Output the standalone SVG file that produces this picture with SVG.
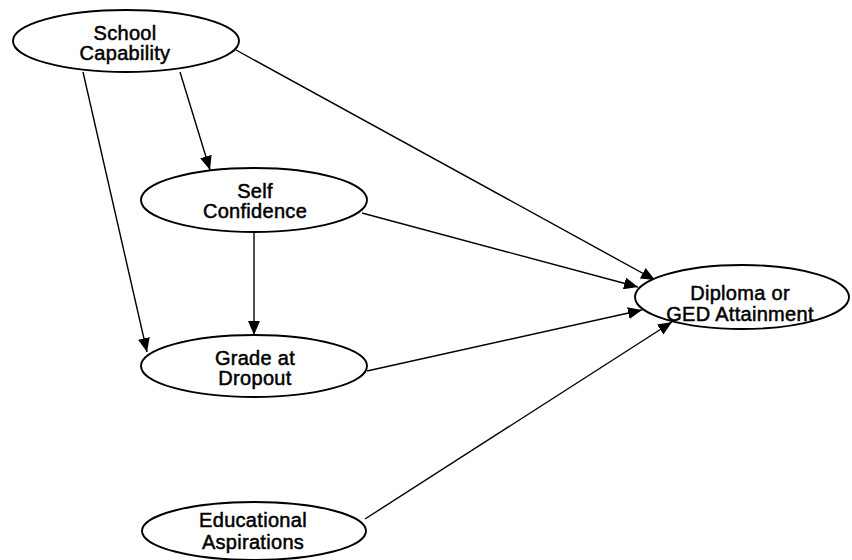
<svg xmlns="http://www.w3.org/2000/svg" width="852" height="560" viewBox="0 0 852 560">
  <style>
    .node ellipse { fill: #ffffff; stroke: #000000; stroke-width: 1.9; }
    .node text { font-family: "Liberation Sans", Arial, sans-serif; font-size: 20px; letter-spacing: 0.3px; fill: #000000; text-anchor: middle; stroke: #000; stroke-width: 0.5; }
    .edge { stroke: #000000; stroke-width: 1.4; fill: none; marker-end: url(#arrow); }
  </style>
  <defs>
    <marker id="arrow" markerUnits="userSpaceOnUse" markerWidth="15" markerHeight="12" refX="14" refY="6" orient="auto">
      <path d="M0,0 L14,6 L0,12 Z" fill="#000000"/>
    </marker>
  </defs>
  <rect width="852" height="560" fill="#ffffff"/>
  <g id="connectors">
    <line class="edge" x1="236" y1="50" x2="655" y2="280"/>
    <line class="edge" x1="180" y1="72" x2="210" y2="170"/>
    <line class="edge" x1="83" y1="72" x2="147" y2="352"/>
    <line class="edge" x1="362" y1="213" x2="638" y2="287"/>
    <line class="edge" x1="254" y1="232" x2="254" y2="335"/>
    <line class="edge" x1="367" y1="371" x2="642" y2="310"/>
    <line class="edge" x1="365" y1="519" x2="672" y2="322"/>
  </g>
  <g id="school-capability" class="node">
    <ellipse cx="126" cy="41" rx="113" ry="31"/>
    <text x="125" y="40">School</text>
    <text x="125" y="60">Capability</text>
  </g>
  <g id="self-confidence" class="node">
    <ellipse cx="254" cy="200" rx="113" ry="32"/>
    <text x="255" y="198">Self</text>
    <text x="255" y="218">Confidence</text>
  </g>
  <g id="grade-at-dropout" class="node">
    <ellipse cx="254" cy="366" rx="113" ry="31"/>
    <text x="255" y="365">Grade at</text>
    <text x="255" y="385">Dropout</text>
  </g>
  <g id="educational-aspirations" class="node">
    <ellipse cx="254" cy="531" rx="112" ry="29"/>
    <text x="253" y="527">Educational</text>
    <text x="253" y="549">Aspirations</text>
  </g>
  <g id="diploma-ged" class="node">
    <ellipse cx="742" cy="297" rx="107" ry="32"/>
    <text x="740" y="300">Diploma or</text>
    <text x="740" y="321">GED Attainment</text>
  </g>
</svg>
